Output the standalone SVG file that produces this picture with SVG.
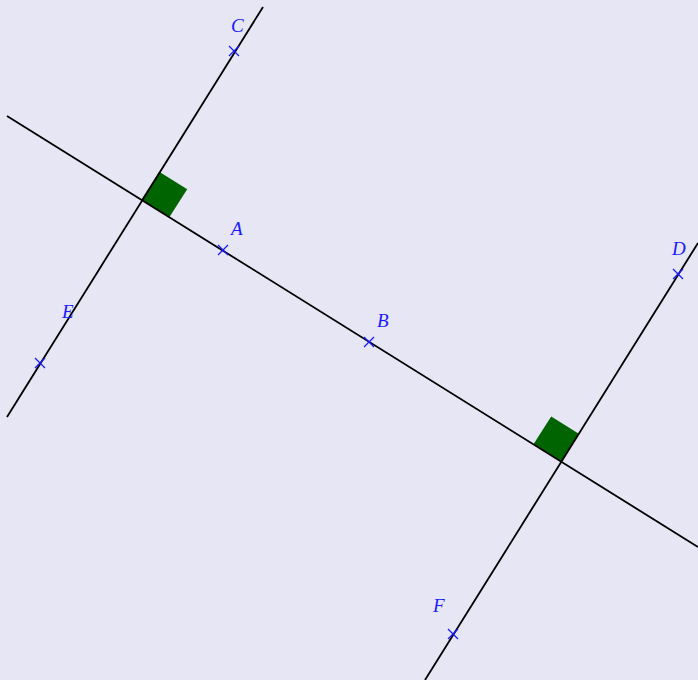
<svg xmlns="http://www.w3.org/2000/svg" width="698" height="680" viewBox="0 0 698 680">
<style>
.ln{stroke:#000;stroke-width:1.8;fill:none}
.sq{fill:#006400;stroke:none}
.cr{stroke:#1a1aff;stroke-width:1.3;fill:none}
.lb{font-family:"Liberation Serif",serif;font-style:italic;font-size:19px;fill:#1a1aff}
</style>
<rect width="698" height="680" fill="#e6e6f5"/>
<g id="angle1"><polygon class="sq" points="141.3,199.7 169.3,217.2 187.2,189.2 159.2,171.7"/></g>
<g id="angle2"><polygon class="sq" points="561.3,461.9 533.3,444.4 551.2,416.4 579.2,433.9"/></g>
<g id="connectors">
<line class="ln" x1="7" y1="116" x2="698" y2="547"/>
<line class="ln" x1="263" y1="7" x2="7" y2="417"/>
<line class="ln" x1="698" y1="243" x2="425" y2="680"/>
</g>
<g id="A"><path class="cr" d="M218,245l10,10M218,255l10,-10"/><text class="lb" x="231" y="235">A</text></g>
<g id="B"><path class="cr" d="M364,337l10,10M364,347l10,-10"/><text class="lb" x="377" y="326.5">B</text></g>
<g id="C"><path class="cr" d="M229,46l10,10M229,56l10,-10"/><text class="lb" x="231" y="32">C</text></g>
<g id="D"><path class="cr" d="M673,269l10,10M673,279l10,-10"/><text class="lb" x="672" y="254.5">D</text></g>
<g id="E"><path class="cr" d="M35,358l10,10M35,368l10,-10"/><text class="lb" x="62" y="317.5">E</text></g>
<g id="F"><path class="cr" d="M448,629l10,10M448,639l10,-10"/><text class="lb" x="433" y="612">F</text></g>
</svg>
